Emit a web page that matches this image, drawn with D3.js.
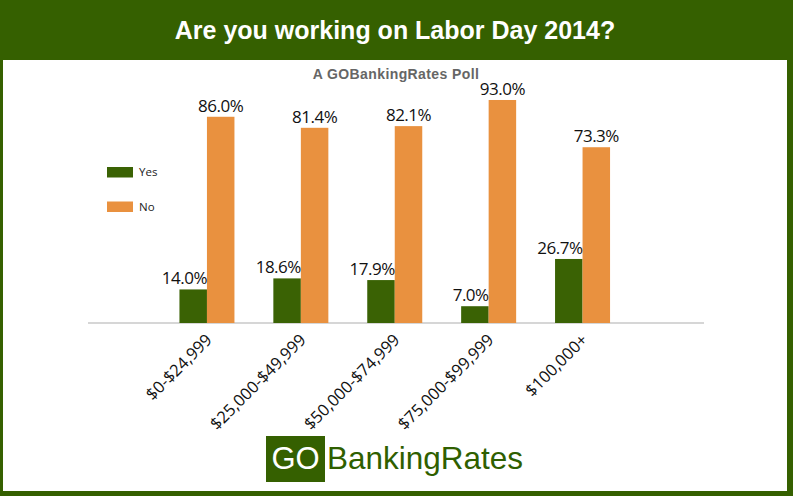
<!DOCTYPE html>
<html>
<head>
<meta charset="utf-8">
<script src="https://cdn.jsdelivr.net/npm/d3@7"></script>
<style>
  html, body { margin: 0; padding: 0; background: #fff; }
  svg { display: block; }
</style>
</head>
<body>
<svg id="chart" width="793" height="496"></svg>
<script>
const categories = ["$0-$24,999", "$25,000-$49,999", "$50,000-$74,999", "$75,000-$99,999", "$100,000+"];
const seriesNames = ["Yes", "No"];
const yesValues = [14.0, 18.6, 17.9, 7.0, 26.7];
const noValues = [86.0, 81.4, 82.1, 93.0, 73.3];
const colors = ["#3a6204", "#e9913f"];

const svg = d3.select("#chart");
const W = 793, H = 496;
const green = "#356000";

// background frame
svg.append("rect").attr("x", 0).attr("y", 0).attr("width", W).attr("height", H).attr("fill", green);
svg.append("rect").attr("x", 3).attr("y", 60).attr("width", 784).attr("height", 431).attr("fill", "#ffffff");

// title
svg.append("text")
  .attr("x", 395).attr("y", 39)
  .attr("text-anchor", "middle")
  .attr("font-family", "'Liberation Sans', Arial, sans-serif")
  .attr("font-weight", "bold")
  .attr("font-size", 25)
  .attr("fill", "#ffffff")
  .text("Are you working on Labor Day 2014?");

svg.append("text")
  .attr("x", 396).attr("y", 78.5)
  .attr("text-anchor", "middle")
  .attr("font-family", "'Liberation Sans', Arial, sans-serif")
  .attr("font-weight", "bold")
  .attr("font-size", 14)
  .attr("letter-spacing", 0.4)
  .attr("fill", "#666666")
  .text("A GOBankingRates Poll");

// scales
const x = d3.scaleBand().domain(categories).range([160, 629.5]).padding(0);
const y = d3.scaleLinear().domain([0, 100]).range([323, 83.2]);
const barW = 27.5;

const data = categories.map((c, i) => ({ cat: c, yes: yesValues[i], no: noValues[i] }));

// baseline axis line
svg.append("line")
  .attr("x1", 88).attr("x2", 704)
  .attr("y1", y(0)).attr("y2", y(0))
  .attr("stroke", "#c8c8c8").attr("stroke-width", 1.5);

const g = svg.append("g");
const groups = g.selectAll("g.grp").data(data).join("g").attr("class", "grp");

// Yes bars
groups.append("rect")
  .attr("x", d => x(d.cat) + x.bandwidth() / 2 - barW)
  .attr("y", d => y(d.yes))
  .attr("width", barW)
  .attr("height", d => y(0) - y(d.yes))
  .attr("fill", colors[0]);

// No bars
groups.append("rect")
  .attr("x", d => x(d.cat) + x.bandwidth() / 2)
  .attr("y", d => y(d.no))
  .attr("width", barW)
  .attr("height", d => y(0) - y(d.no))
  .attr("fill", colors[1]);

const labelFont = "'Open Sans', 'Noto Sans', sans-serif";
groups.append("text")
  .attr("x", d => x(d.cat) + x.bandwidth() / 2)
  .attr("y", d => y(d.yes) - 5)
  .attr("text-anchor", "end")
  .attr("font-family", labelFont)
  .attr("font-size", 17)
  .attr("letter-spacing", -0.5)
  .attr("fill", "#111")
  .text(d => d.yes.toFixed(1) + "%");

groups.append("text")
  .attr("x", d => x(d.cat) + x.bandwidth() / 2 + barW / 2)
  .attr("y", d => y(d.no) - 5)
  .attr("text-anchor", "middle")
  .attr("font-family", labelFont)
  .attr("font-size", 17)
  .attr("letter-spacing", -0.5)
  .attr("fill", "#111")
  .text(d => d.no.toFixed(1) + "%");

// x axis labels via d3 axis
const axisG = svg.append("g")
  .attr("transform", `translate(0,${y(0)})`)
  .call(d3.axisBottom(x).tickSize(0).tickPadding(0));
axisG.select(".domain").remove();
axisG.selectAll(".tick text")
  .attr("font-family", labelFont)
  .attr("font-size", 16.5)
  .attr("fill", "#111")
  .attr("text-anchor", "end")
  .attr("dy", 0)
  .attr("y", 0)
  .attr("transform", "translate(6,18) rotate(-45)");

// legend
const legend = svg.append("g");
seriesNames.forEach((name, i) => {
  legend.append("rect")
    .attr("x", 107).attr("y", 167 + i * 34.5)
    .attr("width", 26).attr("height", 10.5)
    .attr("fill", colors[i]);
  legend.append("text")
    .attr("x", 139).attr("y", 176 + i * 35)
    .attr("font-family", labelFont)
    .attr("font-size", 11.5)
    .attr("fill", "#222")
    .text(name);
});

// logo
svg.append("rect").attr("x", 266).attr("y", 436).attr("width", 59).attr("height", 46).attr("fill", green);
svg.append("text")
  .attr("x", 271.5).attr("y", 468.5)
  .attr("font-family", "'Liberation Sans', Arial, sans-serif")
  .attr("font-size", 31)
  .attr("fill", "#ffffff")
  .text("GO");
svg.append("text")
  .attr("x", 327).attr("y", 468.5)
  .attr("font-family", "'Liberation Sans', Arial, sans-serif")
  .attr("font-size", 31.5)
  .attr("fill", "#2f5f00")
  .text("BankingRates");
</script>
</body>
</html>
